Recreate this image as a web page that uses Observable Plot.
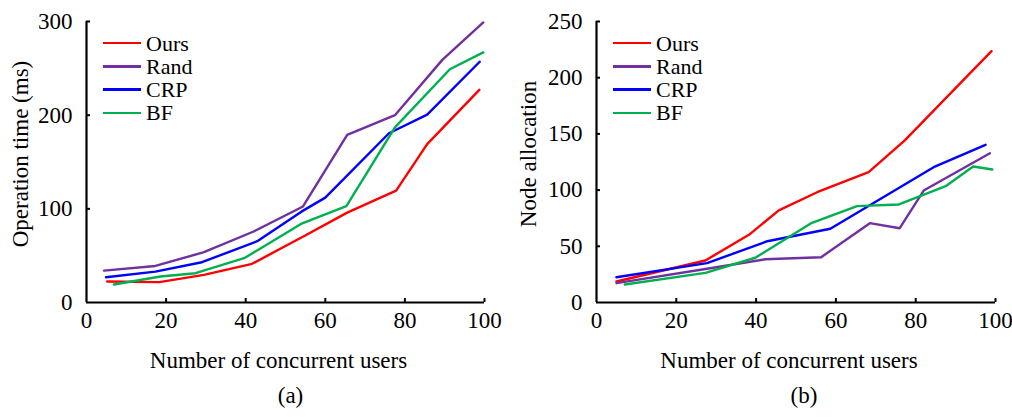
<!DOCTYPE html>
<html><head><meta charset="utf-8">
<script src="https://cdn.jsdelivr.net/npm/d3@7"></script>
<script src="https://cdn.jsdelivr.net/npm/@observablehq/plot@0.6"></script>
<style>
body{margin:0;background:#fff;font-family:"Liberation Serif","Times New Roman",serif;color:#000}
#wrap{display:flex;width:1012px;height:420px}
.panel{position:relative;width:506px;height:420px}
.panel svg{overflow:visible}
.legend{position:absolute;font-size:22px;color:#000}
.legend .row{display:flex;align-items:center;height:23.3px;line-height:23.3px}
.legend .sw{width:38px;height:2.5px;margin-right:5px}
</style></head><body>
<div id="wrap"><div class="panel" id="pa"></div><div class="panel" id="pb"></div></div>
<script>
const seriesNames = ["Ours", "Rand", "CRP", "BF"];
const seriesColors = ["#FF0000", "#7030A0", "#0000FF", "#00B050"];
const xTicks = [0, 20, 40, 60, 80, 100];
const aYTicks = [0, 100, 200, 300];
const bYTicks = [0, 50, 100, 150, 200, 250];

// (a) Operation time (ms)
const aOursX = [5.2, 18.3, 29.5, 41.6, 54.6, 65.5, 77.8, 85.6, 98.7];
const aOursY = [22.4, 21.7, 29.5, 41.3, 70.8, 96, 119.5, 169, 227];
const aRandX = [4.4, 17.3, 29.5, 42, 54.4, 65.5, 77.5, 89.4, 99.7];
const aRandY = [34, 39, 53.7, 75.8, 102.5, 179, 200, 259, 299];
const aCrpX = [4.9, 17.3, 29, 42.9, 54, 60, 76, 85.6, 98.8];
const aCrpY = [27, 33, 43, 65.4, 97, 112, 180.7, 200.6, 257];
const aBfX = [6.9, 18.6, 27.4, 39.8, 54.2, 65.3, 77.5, 91.3, 99.7];
const aBfY = [19.2, 27.7, 31.3, 47.7, 84.6, 102.8, 187, 249, 267];

// (b) Node allocation
const bOursX = [5, 27.3, 38.2, 45.7, 55.3, 68.2, 77.2, 99];
const bOursY = [18.7, 37.4, 60.2, 81.9, 98.1, 116, 144, 223.6];
const bRandX = [5, 27.7, 42.3, 56.3, 68.5, 76, 82, 98.6];
const bRandY = [17.2, 30, 38.5, 40.3, 70.6, 66.1, 99.6, 132.8];
const bCrpX = [5, 27.7, 42.8, 58.6, 84.5, 97.5];
const bCrpY = [22.5, 35, 54.5, 65.6, 120.4, 140.3];
const bBfX = [7.1, 27.3, 39.8, 54, 65.3, 75.8, 87.5, 94.4, 99.2];
const bBfY = [16, 26.4, 39.8, 70.9, 85.7, 87.2, 103.5, 121, 118.3];

const FONT = "Liberation Serif";

function rows(name, xs, ys) { return xs.map((x, i) => ({s: name, x, y: ys[i]})); }

function chart(cfg) {
  const W = 506, H = 420, mt = 21, mb = 118;
  const plotW = W - cfg.ml - cfg.mr, plotH = H - mt - mb;
  const data = cfg.series.flatMap(([n, xs, ys]) => rows(n, xs, ys));
  return Plot.plot({
    width: W, height: H,
    marginLeft: cfg.ml, marginRight: cfg.mr, marginTop: mt, marginBottom: mb,
    style: {color: "#000", background: "#fff"},
    x: {domain: [0, 100]},
    y: {domain: cfg.yDomain},
    color: {domain: seriesNames, range: seriesColors},
    marks: [
      Plot.axisX({ticks: xTicks, tickSize: 0, tickPadding: 9, fontSize: 23, fontFamily: FONT, label: null}),
      Plot.axisY({ticks: cfg.yTicks, tickSize: 0, tickPadding: 14, fontSize: 23, fontFamily: FONT, label: null}),
      Plot.tickX(xTicks.slice(1), {x: d => d, insetTop: plotH - 4, stroke: "#000", strokeWidth: 2}),
      Plot.tickY(cfg.yTicks.slice(1), {y: d => d, insetRight: plotW - 4, stroke: "#000", strokeWidth: 2}),
      Plot.line(data, {x: "x", y: "y", z: "s", stroke: "s", strokeWidth: 2.4}),
      Plot.ruleX([0], {stroke: "#000", strokeWidth: 2.2}),
      Plot.ruleY([cfg.yDomain[0]], {stroke: "#000", strokeWidth: 2.2}),
      Plot.text([cfg.yTitle], {text: d => d, frameAnchor: "left", textAnchor: "middle", lineAnchor: "middle", rotate: -90, dx: cfg.yTitleDx, dy: -8, fontSize: 23, fontFamily: FONT}),
      Plot.text(["Number of concurrent users"], {text: d => d, frameAnchor: "bottom", textAnchor: "middle", lineAnchor: "middle", dx: -7, dy: 58, fontSize: 23, fontFamily: FONT}),
      Plot.text([cfg.caption], {text: d => d, frameAnchor: "bottom", textAnchor: "middle", lineAnchor: "middle", dx: cfg.capDx, dy: 93, fontSize: 23, fontFamily: FONT})
    ]
  });
}

function legend(left) {
  const div = document.createElement("div");
  div.className = "legend";
  div.style.left = left + "px";
  div.style.top = "31.5px";
  seriesNames.forEach((n, i) => {
    const r = document.createElement("div"); r.className = "row";
    const sw = document.createElement("div"); sw.className = "sw"; sw.style.background = seriesColors[i];
    const t = document.createElement("span"); t.textContent = n;
    r.appendChild(sw); r.appendChild(t); div.appendChild(r);
  });
  return div;
}

const pa = document.getElementById("pa");
pa.appendChild(chart({
  ml: 86, mr: 22, yDomain: [0, 300], yTicks: aYTicks, yTitle: "Operation time (ms)", yTitleDx: -66,
  caption: "(a)", capDx: 5,
  series: [["Ours", aOursX, aOursY], ["Rand", aRandX, aRandY], ["CRP", aCrpX, aCrpY], ["BF", aBfX, aBfY]]
}));
pa.appendChild(legend(103));

const pb = document.getElementById("pb");
pb.appendChild(chart({
  ml: 90, mr: 17, yDomain: [0, 250], yTicks: bYTicks, yTitle: "Node allocation", yTitleDx: -68,
  caption: "(b)", capDx: 8,
  series: [["Ours", bOursX, bOursY], ["Rand", bRandX, bRandY], ["CRP", bCrpX, bCrpY], ["BF", bBfX, bBfY]]
}));
pb.appendChild(legend(107));
</script>
</body></html>
